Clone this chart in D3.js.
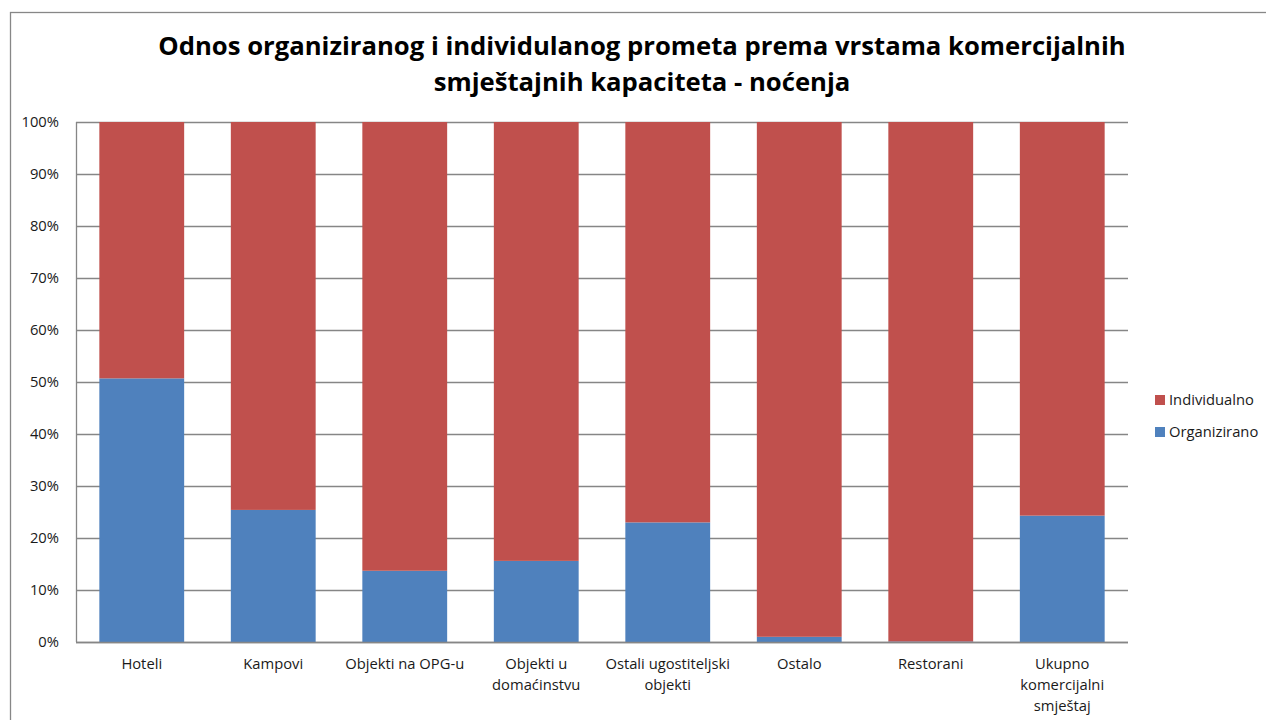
<!DOCTYPE html>
<html>
<head>
<meta charset="utf-8">
<script src="https://cdn.jsdelivr.net/npm/d3@7"></script>
<style>
  body { margin: 0; background: #fff; }
  svg { display: block; font-family: "Open Sans", sans-serif; }
</style>
</head>
<body>
<div id="chart"></div>
<script>
const categories = [
  ['Hoteli'],
  ['Kampovi'],
  ['Objekti na OPG-u'],
  ['Objekti u', 'domaćinstvu'],
  ['Ostali ugostiteljski', 'objekti'],
  ['Ostalo'],
  ['Restorani'],
  ['Ukupno', 'komercijalni', 'smještaj']
];
const organizirano = [50.7, 25.4, 13.7, 15.6, 23.0, 1.0, 0.1, 24.3];
const individualno = [49.3, 74.6, 86.3, 84.4, 77.0, 99.0, 99.9, 75.7];
const seriesNames = ['Organizirano', 'Individualno'];
const colors = { Organizirano: '#4f81bd', Individualno: '#c0504d' };
const yTicks = [0, 10, 20, 30, 40, 50, 60, 70, 80, 90, 100];

const width = 1266, height = 720;
const margin = { left: 76, right: 1128, top: 122, bottom: 642 };

const svg = d3.select('#chart').append('svg')
  .attr('width', width)
  .attr('height', height);

// pick a font size so that a sample string has the wanted width
function fitSize(str, target, weight) {
  const t = svg.append('text').attr('font-size', 20).attr('font-weight', weight || 'normal').text(str);
  const w = t.node().getComputedTextLength();
  t.remove();
  return 20 * target / w;
}
const labelSize = fitSize('Individualno', 85);
const titleSize = fitSize('Odnos organiziranog i individulanog prometa prema vrstama komercijalnih', 968, 'bold');

// outer chart border
svg.append('rect')
  .attr('x', 10.5).attr('y', 12.5)
  .attr('width', 1270).attr('height', 720)
  .attr('fill', 'none')
  .attr('stroke', '#878787')
  .attr('stroke-width', 1.3);

const title = svg.append('text')
  .attr('text-anchor', 'middle')
  .attr('font-weight', 'bold')
  .attr('font-size', titleSize)
  .attr('fill', '#000');
title.append('tspan').attr('x', 642).attr('y', 55)
  .text('Odnos organiziranog i individulanog prometa prema vrstama komercijalnih');
title.append('tspan').attr('x', 642).attr('y', 91)
  .text('smještajnih kapaciteta - noćenja');

const data = categories.map((c, i) => ({
  idx: i,
  Organizirano: organizirano[i],
  Individualno: individualno[i]
}));

const x = d3.scaleBand()
  .domain(d3.range(categories.length))
  .range([margin.left, margin.right])
  .paddingInner(0.355)
  .paddingOuter(0.1775);

const y = d3.scaleLinear()
  .domain([0, 100])
  .range([margin.bottom, margin.top]);

// gridlines
svg.append('g')
  .selectAll('line')
  .data(yTicks)
  .join('line')
  .attr('x1', margin.left).attr('x2', margin.right)
  .attr('y1', d => Math.round(y(d)) + 0.5)
  .attr('y2', d => Math.round(y(d)) + 0.5)
  .attr('stroke', '#868686')
  .attr('stroke-width', 1.3);

// y tick labels
svg.append('g')
  .selectAll('text')
  .data(yTicks)
  .join('text')
  .attr('x', 59)
  .attr('y', d => y(d) + 5)
  .attr('text-anchor', 'end')
  .attr('font-size', labelSize)
  .attr('fill', '#1a1a1a')
  .text(d => d + '%');

const stack = d3.stack().keys(seriesNames)(data);

svg.append('g')
  .selectAll('g')
  .data(stack)
  .join('g')
  .attr('fill', d => colors[d.key])
  .selectAll('rect')
  .data(d => d)
  .join('rect')
  .attr('x', d => x(d.data.idx))
  .attr('width', x.bandwidth())
  .attr('y', d => y(d[1]))
  .attr('height', d => y(d[0]) - y(d[1]));

// axis lines
svg.append('line')
  .attr('x1', margin.left + 0.5).attr('x2', margin.left + 0.5)
  .attr('y1', margin.top).attr('y2', margin.bottom)
  .attr('stroke', '#868686').attr('stroke-width', 1.3);
svg.append('line')
  .attr('x1', margin.left).attr('x2', margin.right)
  .attr('y1', margin.bottom + 0.5).attr('y2', margin.bottom + 0.5)
  .attr('stroke', '#868686').attr('stroke-width', 1.3);

// x labels
const xl = svg.append('g')
  .selectAll('text')
  .data(categories)
  .join('text')
  .attr('text-anchor', 'middle')
  .attr('font-size', labelSize)
  .attr('fill', '#1a1a1a');
xl.selectAll('tspan')
  .data((d, i) => d.map(t => ({ t, i })))
  .join('tspan')
  .attr('x', d => x(d.i) + x.bandwidth() / 2)
  .attr('y', (d, j) => 669 + j * 21)
  .text(d => d.t);

// legend
const legend = svg.append('g')
  .selectAll('g')
  .data(['Individualno', 'Organizirano'])
  .join('g')
  .attr('transform', (d, i) => `translate(1155, ${395 + i * 32})`);
legend.append('rect')
  .attr('x', 0).attr('y', 0)
  .attr('width', 10).attr('height', 10)
  .attr('fill', d => colors[d]);
legend.append('text')
  .attr('x', 14).attr('y', 10)
  .attr('font-size', labelSize)
  .attr('fill', '#1a1a1a')
  .text(d => d);
</script>
</body>
</html>
